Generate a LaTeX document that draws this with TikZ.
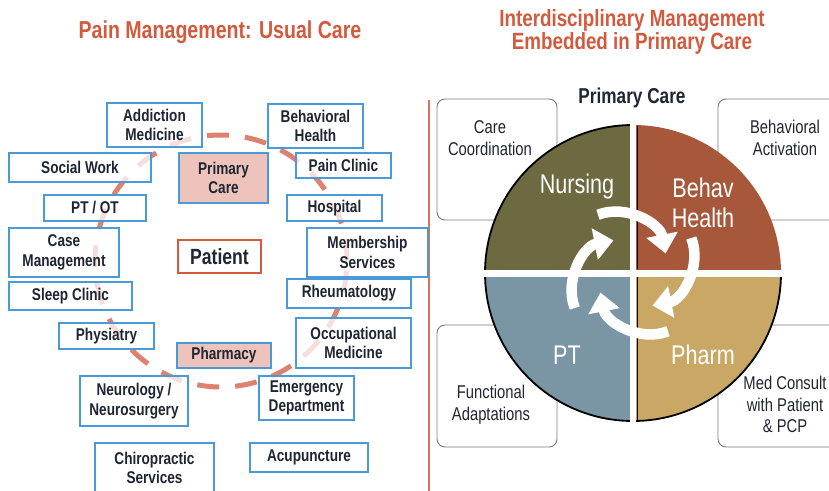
\documentclass[tikz,border=0pt]{standalone}
\usepackage{fontspec}
\setmainfont{Liberation Sans}[FakeStretch=0.8]
\usetikzlibrary{arrows.meta}
\definecolor{ttl}{HTML}{D45A3E}
\definecolor{bblue}{HTML}{4A9AD8}
\definecolor{pinkf}{HTML}{EDC3BB}
\definecolor{txt}{HTML}{1F2633}
\definecolor{dash}{HTML}{DE8270}
\definecolor{nurs}{HTML}{6D6940}
\definecolor{behv}{HTML}{A8583A}
\definecolor{ptc}{HTML}{7A95A3}
\definecolor{phc}{HTML}{C9A866}
\definecolor{divl}{HTML}{E0705A}
\definecolor{rgray}{HTML}{7A7A7A}
\newcommand\ubx[7][]{\node[ub,#1,minimum width={(#5-#3)*1pt},minimum height={(#6-#4)*1pt}] (#2) at ({(#3+#5)/2},{-(#4+#6)/2}) {#7};}
\begin{document}
\begin{tikzpicture}[x=1pt,y=1pt,
  ub/.style={draw=bblue, line width=1.3, fill=white, fill opacity=0.75, text opacity=1,
    font=\bfseries\fontsize{17}{19.5}\selectfont, text=txt, align=center, inner sep=0},
  pinkbox/.style={fill=pinkf, fill opacity=1},
  patbox/.style={draw=ttl, line width=2.5, fill=white, fill opacity=1,
    font=\bfseries\fontsize{22}{24}\selectfont},
  dcirc/.style={draw=dash, line width=5, dash pattern=on 22pt off 16pt},
  rbox/.style={draw=rgray, line width=0.9, rounded corners=8pt, fill=white, inner sep=0},
  rtxt/.style={font=\fontsize{18.5}{22}\selectfont, text=txt, align=center},
  qlab/.style={font=\fontsize{27}{30}\selectfont, text=white, align=center},
  warrow/.style={draw=white, line width=10.5, -{Triangle[width=31pt,length=19pt]}},
  ttlstyle/.style={font=\bfseries\fontsize{24.5}{23}\selectfont, text=ttl, align=center}
]
\useasboundingbox (0,0) rectangle (829,-490);
\fill[white] (0,0) rectangle (829,-490);

% titles
\node[ttlstyle] (t1) at (220,-32) {Pain Management: Usual Care};
\node[ttlstyle, font=\bfseries\fontsize{23.5}{23}\selectfont] (t2) at (632,-31.5) {Interdisciplinary Management\\Embedded in Primary Care};

% divider
\draw[divl, line width=1.5] (429,-100) -- (429,-492);

% dashed ring
\draw[dcirc] (221,-261) circle[radius=126];

% left boxes
\ubx{add}{107}{103}{202}{147}{Addiction\\Medicine}
\ubx{beh}{268}{104}{363}{148}{Behavioral\\Health}
\ubx{soc}{9}{153}{151}{182}{Social Work}
\ubx[pinkbox]{pc}{179}{153}{268}{203}{Primary\\Care}
\ubx{pain}{296}{153}{391}{178}{Pain Clinic}
\ubx{ptot}{44}{195}{146}{221}{PT / OT}
\ubx{hosp}{287}{195}{382}{221}{Hospital}
\ubx{case}{9}{228}{119}{277}{Case\\Management}
\ubx{mem}{307}{228}{428}{277}{Membership\\Services}
\ubx[patbox]{pat}{178}{240}{261}{273}{Patient}
\ubx{sleep}{9}{282}{132}{310}{Sleep Clinic}
\ubx{rheu}{287}{279}{411}{308}{Rheumatology}
\ubx{phys}{59}{323}{154}{349}{Physiatry}
\ubx{occ}{296}{318}{411}{368}{Occupational\\Medicine}
\ubx[pinkbox]{pharm}{177}{343}{271}{368}{Pharmacy}
\ubx{neuro}{80}{376}{188}{426}{Neurology /\\Neurosurgery}
\ubx{emerg}{259}{376}{354}{420}{Emergency\\Department}
\ubx{chiro}{95}{443}{214}{493}{Chiropractic\\Services}
\ubx{acu}{250}{443}{368}{472}{Acupuncture}

% right panel boxes
\node[rbox, minimum width=120pt, minimum height=121pt] (cc) at (497,-159.5) {};
\node[rbox, minimum width=142pt, minimum height=121pt] (ba) at (789,-159.5) {};
\node[rbox, minimum width=120pt, minimum height=122pt] (fa) at (497,-386) {};
\node[rbox, minimum width=142pt, minimum height=122pt] (mc) at (789,-386) {};
\node[rtxt] (cct) at (490,-138) {Care\\Coordination};
\node[rtxt] (bat) at (785,-138) {Behavioral\\Activation};
\node[rtxt] (fat) at (491,-404.5) {Functional\\Adaptations};
\node[rtxt, font=\fontsize{18.5}{21.5}\selectfont] (mct) at (785,-404.5) {Med Consult\\with Patient\\\& PCP};

\node[font=\bfseries\fontsize{21.5}{24}\selectfont, text=txt] (pcl) at (632,-98) {Primary Care};

% quadrant circle
\begin{scope}[shift={(633,-273)}]
  \fill[nurs] (0,0) -- (180:148) arc[start angle=180,end angle=90,radius=148] -- cycle;
  \fill[behv] (0,0) -- (90:148) arc[start angle=90,end angle=0,radius=148] -- cycle;
  \fill[ptc] (0,0) -- (180:148) arc[start angle=180,end angle=270,radius=148] -- cycle;
  \fill[phc] (0,0) -- (270:148) arc[start angle=270,end angle=360,radius=148] -- cycle;
  \draw[black, line width=1.8] (90:148) arc[start angle=90,end angle=360,radius=148];
  \draw[black, line width=1.6] (4.5,4) -- (4.5,147.5);
  \draw[black, line width=1.6] (4.5,-4) -- (4.5,-147.5);
  \draw[white, line width=7] (-150,0) -- (150,0);
  \draw[white, line width=6] (0,-150) -- (0,150);
  % cycle arrows
  \draw[warrow] (121:68) to[out=21, in=101] (31:38);
  \draw[warrow] (31:68) to[out=-69, in=11] (-59:38);
  \draw[warrow] (-59:68) to[out=-159, in=-79] (-149:38);
  \draw[warrow] (-149:68) to[out=111, in=-169] (121:38);
\end{scope}

\node[qlab] (nl) at (577,-187) {Nursing};
\node[qlab] (bl) at (703,-203) {Behav\\Health};
\node[qlab] (pl) at (567,-355) {PT};
\node[qlab] (phl) at (703,-355) {Pharm};
\end{tikzpicture}
\end{document}
